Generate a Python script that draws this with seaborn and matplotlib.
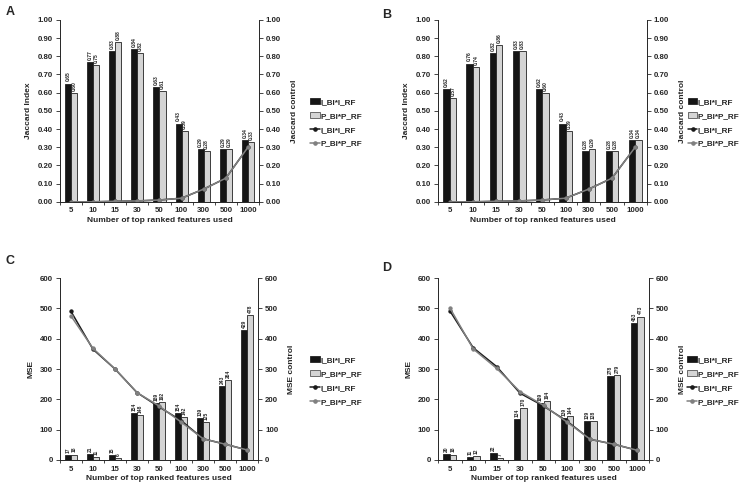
import pandas as pd
import numpy as np
import matplotlib.pyplot as plt
import seaborn as sns

# data
features = ["5", "10", "15", "30", "50", "100", "300", "500", "1000"]
series = ["I_BI*I_RF", "P_BI*P_RF"]

jac_a_i = [0.65, 0.77, 0.83, 0.84, 0.63, 0.43, 0.29, 0.29, 0.34]
jac_a_p = [0.60, 0.75, 0.88, 0.82, 0.61, 0.39, 0.28, 0.29, 0.33]
jac_a_ctrl_i = [0.0, 0.0, 0.003, 0.005, 0.01, 0.02, 0.07, 0.13, 0.30]
jac_a_ctrl_p = [0.0, 0.0, 0.003, 0.005, 0.01, 0.02, 0.07, 0.13, 0.30]

jac_b_i = [0.62, 0.76, 0.82, 0.83, 0.62, 0.43, 0.28, 0.28, 0.34]
jac_b_p = [0.57, 0.74, 0.86, 0.83, 0.60, 0.39, 0.29, 0.28, 0.34]
jac_b_ctrl_i = [0.0, 0.0, 0.003, 0.005, 0.01, 0.02, 0.07, 0.13, 0.30]
jac_b_ctrl_p = [0.0, 0.0, 0.003, 0.005, 0.01, 0.02, 0.07, 0.13, 0.30]

mse_c_i = [17, 21, 15, 154, 189, 154, 139, 243, 429]
mse_c_p = [18, 11, 6, 148, 192, 142, 125, 264, 478]
mse_c_ctrl_i = [490, 365, 300, 222, 175, 130, 70, 52, 33]
mse_c_ctrl_p = [475, 368, 300, 222, 178, 125, 70, 52, 33]

mse_d_i = [20, 11, 22, 134, 189, 139, 129, 278, 453]
mse_d_p = [18, 12, 7, 170, 194, 144, 128, 279, 473]
mse_d_ctrl_i = [492, 370, 308, 220, 178, 128, 68, 52, 32]
mse_d_ctrl_p = [502, 366, 302, 225, 180, 125, 68, 52, 32]

sns.set_style("ticks")
plt.rcParams['font.family'] = ['Liberation Sans', 'DejaVu Sans']
plt.rcParams['font.weight'] = 'bold'
plt.rcParams['axes.labelweight'] = 'bold'

fig = plt.figure(figsize=(7.4, 4.84), dpi=100)

bar_pal = {"I_BI*I_RF": "#151515", "P_BI*P_RF": "#d4d4d4"}
line_pal = {"I_BI*I_RF": "#1a1a1a", "P_BI*P_RF": "#808080"}
fs = 5.7


def panel(rect, letter, letter_xy, leg_x, bi, bp, ci, cp, ylab, ylab2, ymax, ystep, fmt):
    ax = fig.add_axes(rect)
    bars = pd.DataFrame({
        "feat": features * 2,
        "val": bi + bp,
        "series": [series[0]] * 9 + [series[1]] * 9,
    })
    sns.barplot(data=bars, x="feat", y="val", hue="series", palette=bar_pal,
                width=0.55, ax=ax, legend=False, linewidth=0.6, edgecolor="#222222")
    for i, cont in enumerate(ax.containers):
        vals = bi if i == 0 else bp
        ax.bar_label(cont, labels=[fmt.format(v) for v in vals], rotation=90,
                     fontsize=3.6, padding=1.5)
    ax.set_ylim(0, ymax)
    ax.set_xlim(-0.5, 8.5)
    ticks = np.arange(0, ymax + ystep / 2, ystep)
    tlabels = [fmt.format(t) for t in ticks]
    ax.set_yticks(ticks)
    ax.set_yticklabels(tlabels, fontsize=fs)
    ax.set_xticks(np.arange(-0.5, 9, 1), minor=True)
    ax.tick_params(axis='x', which='major', length=0, labelsize=fs, pad=4)
    ax.tick_params(axis='x', which='minor', length=2.5, width=0.6)
    ax.tick_params(axis='y', length=3, width=0.6, pad=2)
    ax.set_xlabel("Number of top ranked features used", fontsize=fs + 0.3, labelpad=2)
    ax.set_ylabel(ylab, fontsize=fs + 0.3, labelpad=4)
    for s in ax.spines.values():
        s.set_linewidth(0.6)

    ax2 = ax.twinx()
    lines = pd.DataFrame({
        "feat": features * 2,
        "val": ci + cp,
        "series": [series[0]] * 9 + [series[1]] * 9,
    })
    sns.pointplot(data=lines, x="feat", y="val", hue="series", palette=line_pal,
                  markers="o", markersize=2.3, linewidth=1.1, ax=ax2, legend=False)
    ax2.set_xlim(-0.5, 8.5)
    ax2.set_ylim(0, ymax)
    ax2.set_yticks(ticks)
    ax2.set_yticklabels(tlabels, fontsize=fs)
    ax2.set_ylabel(ylab2, fontsize=fs + 0.3, labelpad=7)
    ax2.tick_params(axis='y', length=3, width=0.6, pad=2)
    ax2.spines['top'].set_visible(False)
    ax.spines['top'].set_visible(False)
    for s in ax2.spines.values():
        s.set_linewidth(0.6)

    handles = [
        plt.Rectangle((0, 0), 1, 1, facecolor=bar_pal[series[0]], edgecolor="#222222", linewidth=0.6),
        plt.Rectangle((0, 0), 1, 1, facecolor=bar_pal[series[1]], edgecolor="#555555", linewidth=0.6),
        plt.Line2D([], [], color=line_pal[series[0]], marker="o", markersize=2.3, linewidth=1.1),
        plt.Line2D([], [], color=line_pal[series[1]], marker="o", markersize=2.3, linewidth=1.1),
    ]
    ax2.legend(handles, series * 2, loc="center left", bbox_to_anchor=(leg_x, 0.434),
               frameon=False, prop={'size': fs + 0.2, 'weight': 'bold'}, handlelength=1.2,
               handleheight=0.7, handletextpad=0.05, labelspacing=0.75, borderpad=0,
               borderaxespad=0)
    fig.text(letter_xy[0], letter_xy[1], letter, fontsize=9, fontweight='bold')


panel([0.081, 0.583, 0.269, 0.376], "A", (0.008, 0.968), 1.256,
      jac_a_i, jac_a_p, jac_a_ctrl_i, jac_a_ctrl_p,
      "Jaccard Index", "Jaccard control", 1.0, 0.1, "{:.2f}")
panel([0.592, 0.583, 0.282, 0.376], "B", (0.517, 0.963), 1.196,
      jac_b_i, jac_b_p, jac_b_ctrl_i, jac_b_ctrl_p,
      "Jaccard Index", "Jaccard control", 1.0, 0.1, "{:.2f}")
panel([0.081, 0.0496, 0.268, 0.376], "C", (0.008, 0.455), 1.26,
      mse_c_i, mse_c_p, mse_c_ctrl_i, mse_c_ctrl_p,
      "MSE", "MSE control", 600, 100, "{:.0f}")
panel([0.592, 0.0496, 0.285, 0.376], "D", (0.517, 0.44), 1.18,
      mse_d_i, mse_d_p, mse_d_ctrl_i, mse_d_ctrl_p,
      "MSE", "MSE control", 600, 100, "{:.0f}")

fig.savefig("out.png", dpi=100)
